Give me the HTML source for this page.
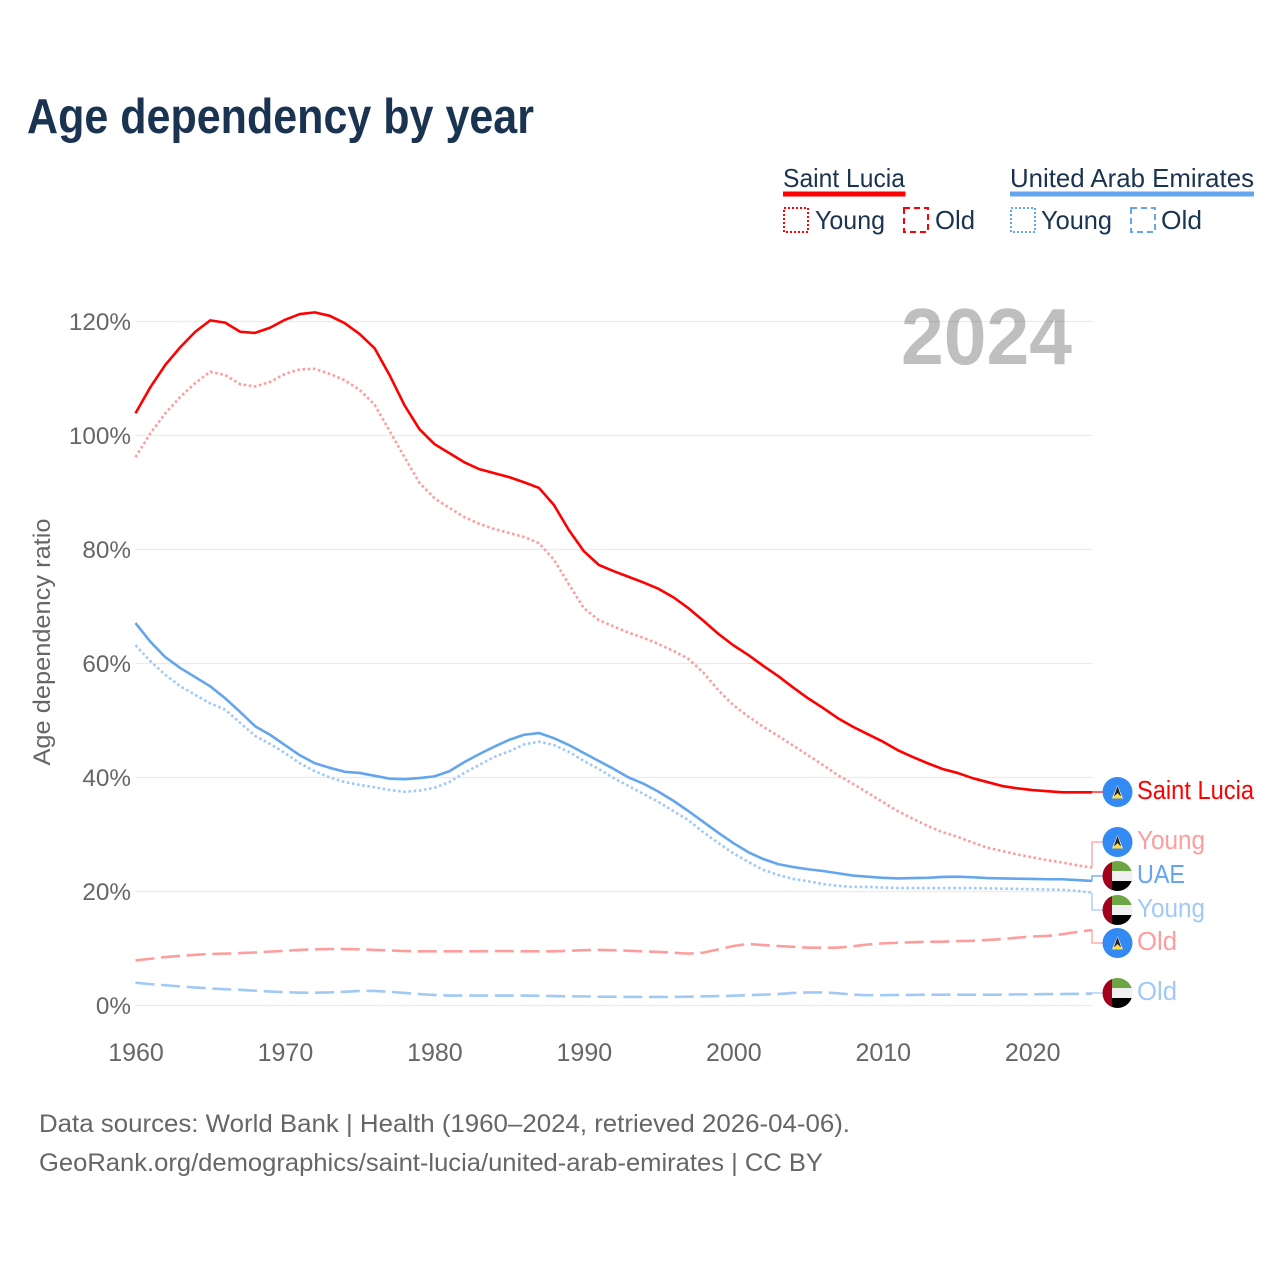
<!DOCTYPE html>
<html lang="en">
<head>
<meta charset="utf-8">
<title>Age dependency by year</title>
<style>
html,body{margin:0;padding:0;background:#fff}
svg{display:block}
text{font-family:"Liberation Sans",sans-serif}
</style>
</head>
<body>
<svg id="chart" xmlns="http://www.w3.org/2000/svg" width="1280" height="1280" viewBox="0 0 1280 1280">
  <rect width="1280" height="1280" fill="#fff"/>
  <text x="27" y="133" font-size="49" font-weight="700" fill="#1a3350" textLength="507" lengthAdjust="spacingAndGlyphs">Age dependency by year</text>

  <g font-size="26" fill="#1a3350">
    <text x="783" y="187" textLength="122" lengthAdjust="spacingAndGlyphs">Saint Lucia</text>
    <rect x="783" y="191.5" width="122.500" height="5" fill="#ff0000"/>
    <rect x="784" y="208" width="24" height="24" fill="none" stroke="#ff0000" stroke-width="2" stroke-dasharray="2 2"/>
    <text x="815" y="229" textLength="70" lengthAdjust="spacingAndGlyphs">Young</text>
    <rect x="904" y="208" width="24" height="24" fill="none" stroke="#ff0000" stroke-width="2" stroke-dasharray="6 4"/>
    <text x="935" y="229" textLength="40" lengthAdjust="spacingAndGlyphs">Old</text>
    <text x="1010" y="187" textLength="244" lengthAdjust="spacingAndGlyphs">United Arab Emirates</text>
    <rect x="1010" y="191.500" width="244" height="5" fill="#63a5ee"/>
    <rect x="1011" y="208" width="24" height="24" fill="none" stroke="#63a5ee" stroke-width="2" stroke-dasharray="2 2"/>
    <text x="1041" y="229" textLength="71" lengthAdjust="spacingAndGlyphs">Young</text>
    <rect x="1131" y="208" width="24" height="24" fill="none" stroke="#63a5ee" stroke-width="2" stroke-dasharray="6 4"/>
    <text x="1161" y="229" textLength="41" lengthAdjust="spacingAndGlyphs">Old</text>
  </g>

  <text transform="translate(50 642) rotate(-90)" text-anchor="middle" font-size="24.500" fill="#666" textLength="247" lengthAdjust="spacingAndGlyphs">Age dependency ratio</text>

  <g id="grid"></g>
  <g id="yticks"></g>
  <g id="xticks"></g>

  <text x="901" y="364" font-size="80" font-weight="700" fill="#000" fill-opacity="0.25" textLength="171" lengthAdjust="spacingAndGlyphs">2024</text>

  <g id="series"></g>

  <g font-size="25.500">
    <defs>
      <clipPath id="fc"><circle cx="0" cy="0" r="15"/></clipPath>
      <g id="lc-flag">
        <circle r="15" fill="#338af3"/>
        <polygon points="-5.500,6.500 5.500,6.500 0,-7" fill="#f0f0f0"/>
        <polygon points="-3.500,4 3.500,4 0,-6" fill="#222"/>
        <polygon points="-5.500,6.500 5.500,6.500 0,1" fill="#ffda44"/>
      </g>
      <g id="ae-flag" clip-path="url(#fc)">
        <rect x="-15" y="-15" width="30" height="30" fill="#f0f0f0"/>
        <rect x="-15" y="-15" width="30" height="10" fill="#6da544"/>
        <rect x="-15" y="5" width="30" height="10" fill="#000"/>
        <rect x="-15" y="-15" width="9.500" height="30" fill="#a2001d"/>
      </g>
    </defs>
    <use href="#lc-flag" x="1117.500" y="792"/>
    <text x="1137" y="799" fill="#ff0000" textLength="117" lengthAdjust="spacingAndGlyphs">Saint Lucia</text>
    <use href="#lc-flag" x="1117.500" y="842"/>
    <text x="1137" y="849" fill="#ff9d9d" textLength="68" lengthAdjust="spacingAndGlyphs">Young</text>
    <use href="#ae-flag" x="1117.500" y="876"/>
    <text x="1137" y="883" fill="#63a5ee" textLength="48" lengthAdjust="spacingAndGlyphs">UAE</text>
    <use href="#ae-flag" x="1117.500" y="910"/>
    <text x="1137" y="917" fill="#a1c9f6" textLength="68" lengthAdjust="spacingAndGlyphs">Young</text>
    <use href="#lc-flag" x="1117.500" y="943"/>
    <text x="1137" y="950" fill="#ff9d9d" textLength="40" lengthAdjust="spacingAndGlyphs">Old</text>
    <use href="#ae-flag" x="1117.500" y="993"/>
    <text x="1137" y="1000" fill="#a1c9f6" textLength="40" lengthAdjust="spacingAndGlyphs">Old</text>
  </g>

  <g font-size="25" fill="#666">
    <text x="39" y="1132" textLength="811" lengthAdjust="spacingAndGlyphs">Data sources: World Bank | Health (1960–2024, retrieved 2026-04-06).</text>
    <text x="39" y="1171" textLength="784" lengthAdjust="spacingAndGlyphs">GeoRank.org/demographics/saint-lucia/united-arab-emirates | CC BY</text>
  </g>
</svg>
<script>
const startYear = 1960;
const yTickValues = [0, 20, 40, 60, 80, 100, 120];
const yTickLabels = ["0%", "20%", "40%", "60%", "80%", "100%", "120%"];
const xTickValues = [1960, 1970, 1980, 1990, 2000, 2010, 2020];
const xTickLabels = ["1960", "1970", "1980", "1990", "2000", "2010", "2020"];

const saintLuciaTotal = [103.9,108.5,112.4,115.5,118.2,120.2,119.8,118.2,118.0,118.9,
  120.3,121.3,121.6,121.0,119.7,117.8,115.3,110.6,105.3,101.1,
  98.5,96.9,95.3,94.1,93.4,92.7,91.8,90.8,87.8,83.4,
  79.7,77.3,76.2,75.2,74.2,73.1,71.6,69.7,67.5,65.2,
  63.2,61.5,59.6,57.8,55.8,53.9,52.2,50.4,48.9,47.6,
  46.3,44.8,43.6,42.5,41.5,40.8,39.9,39.2,38.5,38.1,
  37.8,37.6,37.4,37.4,37.4];
const saintLuciaYoung = [96.2,100.4,103.9,106.8,109.2,111.2,110.6,109.0,108.6,109.4,
  110.8,111.6,111.7,110.8,109.7,108.0,105.4,100.8,96.2,91.7,
  89.0,87.3,85.7,84.5,83.6,82.9,82.2,81.1,78.2,73.9,
  69.7,67.6,66.5,65.4,64.5,63.4,62.2,60.8,58.4,55.3,
  52.7,50.7,48.9,47.3,45.6,43.9,42.2,40.4,38.9,37.3,
  35.7,34.1,32.8,31.5,30.4,29.6,28.6,27.7,27.1,26.5,
  26.0,25.5,25.1,24.6,24.2];
const saintLuciaOld = [7.9,8.2,8.5,8.7,8.9,9.05,9.1,9.2,9.3,9.45,
  9.6,9.75,9.85,9.9,9.9,9.85,9.75,9.65,9.55,9.5,
  9.5,9.5,9.5,9.5,9.55,9.55,9.5,9.5,9.5,9.6,
  9.7,9.75,9.7,9.6,9.5,9.4,9.25,9.1,9.27,9.85,
  10.44,10.8,10.6,10.44,10.3,10.15,10.15,10.15,10.4,10.7,
  10.9,11.0,11.1,11.2,11.2,11.3,11.35,11.5,11.65,11.9,
  12.1,12.2,12.5,12.9,13.25];
const uaeTotal = [67.1,63.8,61.1,59.2,57.6,56.0,53.9,51.5,49.0,47.5,
  45.7,43.9,42.5,41.7,41.0,40.8,40.3,39.8,39.7,39.9,
  40.2,41.1,42.7,44.1,45.4,46.6,47.5,47.8,46.9,45.7,
  44.3,42.9,41.5,40.0,38.9,37.5,35.9,34.1,32.2,30.3,
  28.5,26.9,25.7,24.8,24.3,23.9,23.6,23.2,22.8,22.6,
  22.4,22.3,22.35,22.4,22.55,22.6,22.5,22.35,22.3,22.25,
  22.2,22.15,22.15,22.0,21.85];
const uaeYoung = [63.2,60.4,58.0,56.0,54.5,53.0,51.9,49.6,47.3,45.9,
  44.3,42.5,41.1,40.0,39.2,38.7,38.3,37.8,37.5,37.7,
  38.2,39.2,40.8,42.2,43.6,44.6,45.8,46.3,45.7,44.5,
  42.9,41.5,39.9,38.5,37.1,35.7,34.1,32.5,30.4,28.5,
  26.7,25.2,23.8,22.9,22.2,21.8,21.3,21.0,20.8,20.8,
  20.7,20.6,20.6,20.6,20.6,20.6,20.6,20.55,20.5,20.45,
  20.4,20.35,20.3,20.1,19.8];
const uaeOld = [4.0,3.75,3.55,3.35,3.15,3.0,2.85,2.75,2.6,2.45,
  2.35,2.25,2.25,2.3,2.4,2.55,2.55,2.4,2.2,2.0,
  1.85,1.75,1.75,1.75,1.75,1.75,1.75,1.7,1.65,1.6,
  1.6,1.55,1.55,1.5,1.5,1.5,1.5,1.55,1.6,1.65,
  1.72,1.8,1.9,2.0,2.2,2.3,2.3,2.15,1.9,1.8,
  1.8,1.85,1.85,1.9,1.9,1.9,1.9,1.9,1.9,1.95,
  1.95,2.0,2.0,2.05,2.1];

const NS = "http://www.w3.org/2000/svg";
function xScale(year) { return 135.5 + (year - startYear) * 14.945; }
function yScale(value) { return 1005.5 - value * 5.7; }

const grid = document.getElementById("grid");
const yticks = document.getElementById("yticks");
const xticks = document.getElementById("xticks");
const seriesGroup = document.getElementById("series");

yTickValues.forEach(function (v, i) {
  const line = document.createElementNS(NS, "line");
  
  
  line.setAttribute("x1", xScale(startYear));
  line.setAttribute("x2", xScale(2024));
  line.setAttribute("y1", yScale(v));
  line.setAttribute("y2", yScale(v));
  line.setAttribute("stroke", "#ebebeb");
  line.setAttribute("stroke-width", "1.3");
  grid.appendChild(line);

  const label = document.createElementNS(NS, "text");
  
  
  label.setAttribute("x", 131);
  label.setAttribute("y", yScale(v) + 8.5);
  label.setAttribute("text-anchor", "end");
  label.setAttribute("font-size", "24.3");
  label.setAttribute("fill", "#666");
  label.textContent = yTickLabels[i];
  yticks.appendChild(label);
});

xTickValues.forEach(function (v, i) {
  const label = document.createElementNS(NS, "text");
  
  
  label.setAttribute("x", xScale(v) + 0.5);
  label.setAttribute("y", 1061);
  label.setAttribute("text-anchor", "middle");
  label.setAttribute("font-size", "25");
  label.setAttribute("fill", "#666");
  label.textContent = xTickLabels[i];
  xticks.appendChild(label);
});

function drawSeries(values, name, color, width, dash) {
  const p = document.createElementNS(NS, "path");
  
  
  const d = values.map(function (v, i) {
    return (i ? "L" : "M") + xScale(startYear + i).toFixed(2) + " " + yScale(v).toFixed(2);
  }).join("");
  p.setAttribute("d", d);
  p.setAttribute("fill", "none");
  p.setAttribute("stroke", color);
  p.setAttribute("stroke-width", width);
  p.setAttribute("stroke-linejoin", "round");
  if (dash) p.setAttribute("stroke-dasharray", dash);
  seriesGroup.appendChild(p);
}

drawSeries(uaeOld, "uae-old-line", "#a1c9f6", 2.6, "19 6.7");
drawSeries(saintLuciaOld, "saint-lucia-old-line", "#ff9d9d", 2.6, "19 6.7");
drawSeries(uaeYoung, "uae-young-line", "#a1c9f6", 2.6, "2.6 2.6");
drawSeries(saintLuciaYoung, "saint-lucia-young-line", "#ff9d9d", 2.6, "2.6 2.6");
drawSeries(uaeTotal, "uae-total-line", "#63a5ee", 2.6, "");
drawSeries(saintLuciaTotal, "saint-lucia-total-line", "#ff0000", 2.6, "");

function drawLeader(values, labelY, name, color) {
  const endX = xScale(2024);
  const endY = yScale(values[values.length - 1]);
  const p = document.createElementNS(NS, "path");
  
  
  p.setAttribute("d", "M" + endX + " " + endY + "L" + endX + " " + labelY + "L1103 " + labelY);
  p.setAttribute("fill", "none");
  p.setAttribute("stroke", color);
  p.setAttribute("stroke-width", "1.3");
  seriesGroup.appendChild(p);
}

drawLeader(saintLuciaTotal, 792, "leader-saint-lucia", "#ff0000");
drawLeader(saintLuciaYoung, 842, "leader-saint-lucia-young", "#ff9d9d");
drawLeader(uaeTotal, 876, "leader-uae", "#63a5ee");
drawLeader(uaeYoung, 910, "leader-uae-young", "#a1c9f6");
drawLeader(saintLuciaOld, 943, "leader-saint-lucia-old", "#ff9d9d");
drawLeader(uaeOld, 993, "leader-uae-old", "#a1c9f6");
</script>
</body>
</html>
